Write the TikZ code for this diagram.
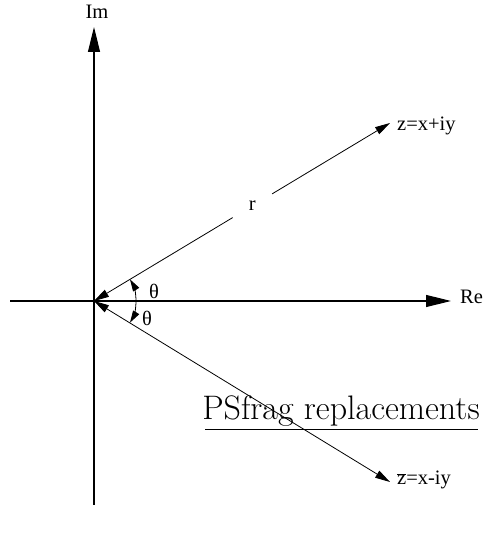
\documentclass[tikz,border=0pt]{standalone}
\usepackage{fontspec}
\newfontfamily\labelfont{Liberation Serif}
\usetikzlibrary{arrows.meta, calc}

\tikzset{
  axis/.style={line width=1.1pt, -{Triangle[length=25pt,width=12pt]}},
  ray/.style={line width=0.8pt, {Triangle[length=15pt,width=8pt]}-{Triangle[length=15pt,width=8pt]}},
  angarc/.style={line width=0.8pt, -{Triangle[length=12pt,width=7pt]}},
  lbl/.style={font=\fontsize{20.5}{24}\selectfont\labelfont, inner sep=0pt}
}

\begin{document}
\begin{tikzpicture}[x=1pt, y=1pt]
    \useasboundingbox (0,0) rectangle (486,534);
    \coordinate (O) at (94,233);
    \coordinate (z) at (390,411);
    \coordinate (zc) at (390,52);
    % axes
    \draw[axis] (94,29) -- (94,507) coordinate (imtip);
    \draw[axis] (10,233) -- (451,233) coordinate (retip);
    \node[lbl] (im) at (97,522) {Im};
    \node[lbl, anchor=west] (re) at (460,237) {Re};
    % z and its conjugate
    \draw[ray] (O) -- (z);
    \node[lbl, fill=white, circle, minimum size=46pt] (r) at ($(O)!0.535!(z)$) {r};
    \draw[ray] (O) -- (zc);
    \node[lbl, anchor=west] (zlab) at (397,408) {z=x+iy};
    \node[lbl, anchor=west] (zclab) at (397,54) {$\overline{\mbox{z}}$=x-iy};
    % angles
    \draw[angarc] ($(O)+(42,0)$) arc[start angle=0, end angle=31, radius=42];
    \draw[angarc] ($(O)+(42,0)$) arc[start angle=0, end angle=-31, radius=42];
    \node[lbl] (th1) at (154,243) {θ};
    \node[lbl] (th2) at (147,216) {θ};
    % psfrag leftover
    \node[font=\fontsize{34}{38}\selectfont, inner sep=0pt] (psf) at (341,123) {PSfrag replacements};
    \draw[line width=1pt] (205,104) -- (478,104);
\end{tikzpicture}
\end{document}
